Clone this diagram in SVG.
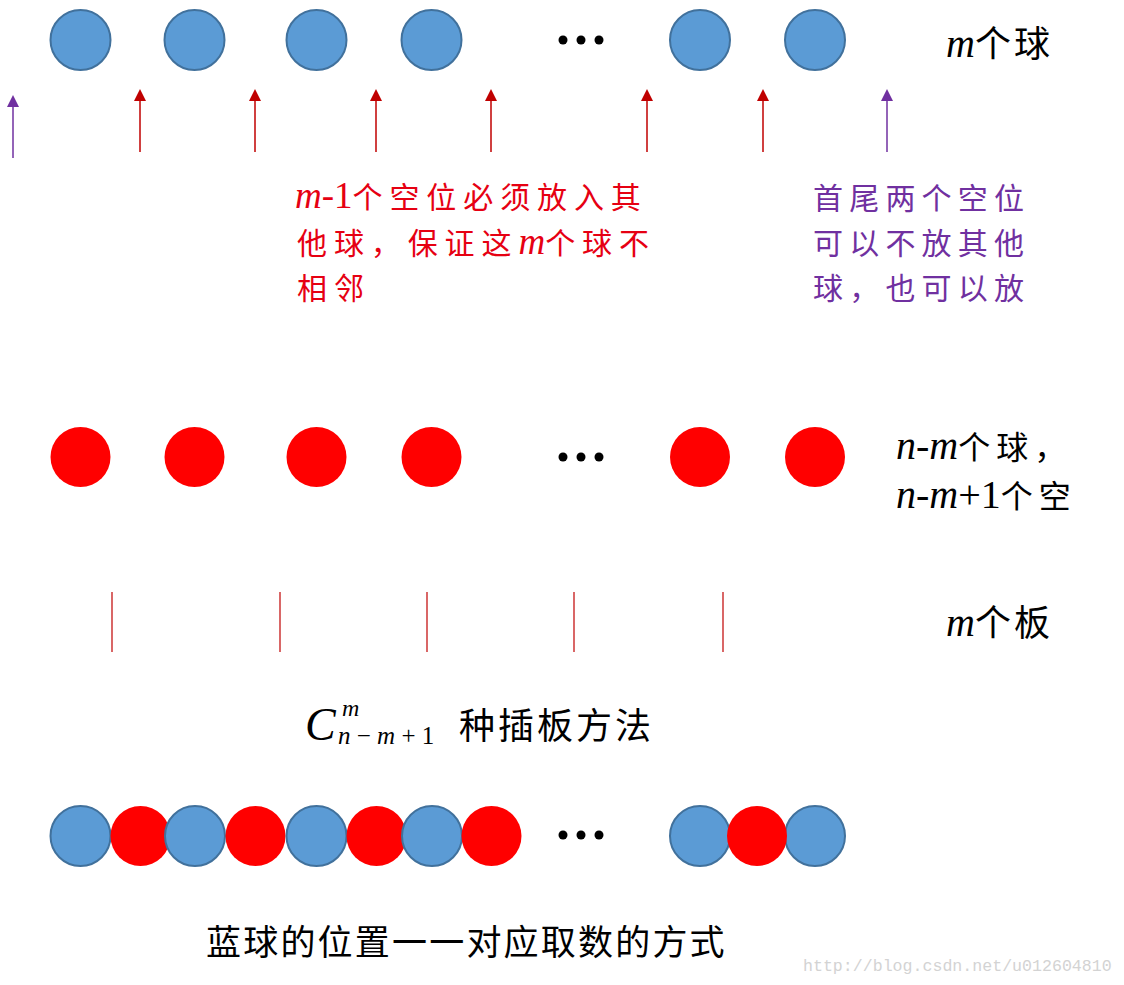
<svg xmlns="http://www.w3.org/2000/svg" width="1124" height="985" viewBox="0 0 1124 985">
<style>
.blue{fill:#5B9BD5;stroke:#41719C;stroke-width:2}
.red{fill:#FF0000}
.dot{fill:#000}
.cjk{font-family:"Noto Sans CJK SC","Noto Sans",sans-serif}
.it{font-family:"Liberation Serif",serif;font-style:italic}
.rm{font-family:"Liberation Serif",serif}
.ra{stroke:#C00000;stroke-width:1.5}
.pa{stroke:#7030A0;stroke-width:1.5}
.board{stroke:#C00000;stroke-width:1.2}
</style>
<rect width="1124" height="985" fill="#fff"/>

<g id="row1">
<circle class="blue" cx="80.5" cy="40" r="30"/>
<circle class="blue" cx="194.5" cy="40" r="30"/>
<circle class="blue" cx="316.5" cy="40" r="30"/>
<circle class="blue" cx="431.5" cy="40" r="30"/>
<circle class="dot" cx="563" cy="40" r="4.5"/>
<circle class="dot" cx="581" cy="40" r="4.5"/>
<circle class="dot" cx="599" cy="40" r="4.5"/>
<circle class="blue" cx="700" cy="40" r="30"/>
<circle class="blue" cx="815" cy="40" r="30"/>
</g>
<g id="label-m-balls">
<text x="946" y="57" font-size="36" letter-spacing="3" class="cjk" fill="#000"><tspan class="it" font-size="40" letter-spacing="0">m</tspan>个球</text>
</g>

<g id="connectors">
<line class="pa" x1="13" y1="158" x2="13" y2="106"/>
<path d="M13,95 L19,107 L7,107 Z" fill="#7030A0"/>
<line class="ra" x1="140" y1="152" x2="140" y2="100"/>
<path d="M140,89 L146,101 L134,101 Z" fill="#C00000"/>
<line class="ra" x1="255" y1="152" x2="255" y2="100"/>
<path d="M255,89 L261,101 L249,101 Z" fill="#C00000"/>
<line class="ra" x1="376" y1="152" x2="376" y2="100"/>
<path d="M376,89 L382,101 L370,101 Z" fill="#C00000"/>
<line class="ra" x1="491" y1="152" x2="491" y2="100"/>
<path d="M491,89 L497,101 L485,101 Z" fill="#C00000"/>
<line class="ra" x1="647" y1="152" x2="647" y2="100"/>
<path d="M647,89 L653,101 L641,101 Z" fill="#C00000"/>
<line class="ra" x1="763" y1="152" x2="763" y2="100"/>
<path d="M763,89 L769,101 L757,101 Z" fill="#C00000"/>
<line class="pa" x1="887" y1="152" x2="887" y2="100"/>
<path d="M887,89 L893,101 L881,101 Z" fill="#7030A0"/>
</g>

<g id="red-note" fill="#E60012" font-size="30" letter-spacing="6.9" class="cjk">
<text x="295" y="208"><tspan class="it" font-size="37" letter-spacing="0">m</tspan><tspan class="rm" font-size="37" letter-spacing="0">-1</tspan>个空位必须放入其</text>
<text x="297" y="254">他球，保证这<tspan class="it" font-size="37" letter-spacing="0">m</tspan>个球不</text>
<text x="297" y="299">相邻</text>
</g>

<g id="purple-note" fill="#7030A0" font-size="30" letter-spacing="6.2" class="cjk">
<text x="813" y="209">首尾两个空位</text>
<text x="813" y="254">可以不放其他</text>
<text x="813" y="299">球，也可以放</text>
</g>

<g id="row2">
<circle class="red" cx="80.5" cy="457" r="30"/>
<circle class="red" cx="194.5" cy="457" r="30"/>
<circle class="red" cx="316.5" cy="457" r="30"/>
<circle class="red" cx="431.5" cy="457" r="30"/>
<circle class="dot" cx="563" cy="457" r="4.5"/>
<circle class="dot" cx="581" cy="457" r="4.5"/>
<circle class="dot" cx="599" cy="457" r="4.5"/>
<circle class="red" cx="700" cy="457" r="30"/>
<circle class="red" cx="815" cy="457" r="30"/>
</g>
<g id="label-nm" font-size="32" letter-spacing="6" class="cjk" fill="#000">
<text x="896" y="459"><tspan class="it" font-size="40" letter-spacing="0">n</tspan><tspan class="rm" font-size="40" letter-spacing="0">-</tspan><tspan class="it" font-size="40" letter-spacing="0">m</tspan>个球，</text>
<text x="896" y="508"><tspan class="it" font-size="40" letter-spacing="0">n</tspan><tspan class="rm" font-size="40" letter-spacing="0">-</tspan><tspan class="it" font-size="40" letter-spacing="0">m</tspan><tspan class="rm" font-size="40" letter-spacing="0">+1</tspan>个空</text>
</g>

<g id="boards">
<line class="board" x1="112" y1="592" x2="112" y2="652"/>
<line class="board" x1="280" y1="592" x2="280" y2="652"/>
<line class="board" x1="427" y1="592" x2="427" y2="652"/>
<line class="board" x1="574" y1="592" x2="574" y2="652"/>
<line class="board" x1="723" y1="592" x2="723" y2="652"/>
</g>
<g id="label-boards">
<text x="946" y="636" font-size="36" letter-spacing="3" class="cjk" fill="#000"><tspan class="it" font-size="40" letter-spacing="0">m</tspan>个板</text>
</g>

<g id="formula" fill="#000">
<text x="305" y="740" class="it" font-size="46">C</text>
<text x="342" y="716" class="it" font-size="24">m</text>
<text x="338" y="744" font-size="25"><tspan class="it">n</tspan><tspan class="rm"> − </tspan><tspan class="it">m</tspan><tspan class="rm"> + 1</tspan></text>
<text x="459" y="739" font-size="36" letter-spacing="3" class="cjk">种插板方法</text>
</g>

<g id="row3">
<circle class="blue" cx="80.5" cy="836" r="30"/>
<circle class="red" cx="140.5" cy="836" r="30"/>
<circle class="blue" cx="195" cy="836" r="30"/>
<circle class="red" cx="255.5" cy="836" r="30"/>
<circle class="blue" cx="316.5" cy="836" r="30"/>
<circle class="red" cx="376.5" cy="836" r="30"/>
<circle class="blue" cx="432" cy="836" r="30"/>
<circle class="red" cx="491.5" cy="836" r="30"/>
<circle class="dot" cx="563" cy="835" r="4.5"/>
<circle class="dot" cx="581" cy="835" r="4.5"/>
<circle class="dot" cx="599" cy="835" r="4.5"/>
<circle class="blue" cx="700" cy="836" r="30"/>
<circle class="blue" cx="815" cy="836" r="30"/>
<circle class="red" cx="757" cy="836" r="30"/>
</g>

<g id="caption">
<text x="206" y="955" font-size="35" letter-spacing="2.2" class="cjk" fill="#000">蓝球的位置一一对应取数的方式</text>
</g>
<g id="watermark">
<text x="803" y="971" font-size="16.6" font-family="'Liberation Mono',monospace" fill="#D3D3D3">http://blog.csdn.net/u012604810</text>
</g>
</svg>
